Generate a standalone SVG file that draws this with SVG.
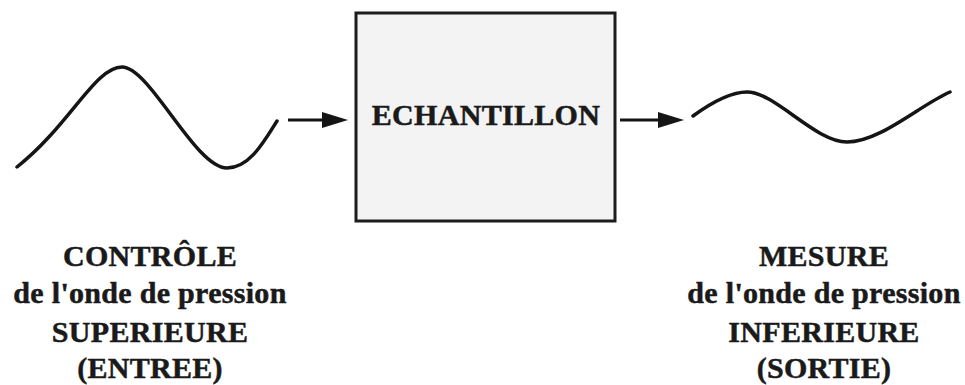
<svg xmlns="http://www.w3.org/2000/svg" width="965" height="385" viewBox="0 0 965 385">
  <style>
    .wave { fill: none; stroke: #151515; stroke-width: 3.5; stroke-linecap: round; stroke-linejoin: round; }
    .box { fill: #f3f3f3; stroke: #1c1c1c; stroke-width: 3; }
    .link { fill: none; stroke: #151515; stroke-width: 3; }
    .head { fill: #151515; }
    .label { font-family: "Liberation Serif", "Times New Roman", serif; font-weight: bold; font-size: 30px; fill: #1a1a1a; stroke: #1a1a1a; stroke-width: 0.5; letter-spacing: 0.3px; text-anchor: middle; }
  </style>
  <rect width="965" height="385" fill="#ffffff"/>

  <!-- input pressure wave -->
  <g id="input-wave">
    <path class="wave" d="M17,167 C70,125 95,67 122,67 C150,67 195,168 227,168 C250,168 265,140 277,121"/>
  </g>

  <!-- sample block -->
  <g id="sample">
    <rect class="box" x="356" y="13" width="259" height="208"/>
    <text class="label" x="486" y="125">ECHANTILLON</text>
  </g>

  <!-- output pressure wave -->
  <g id="output-wave">
    <path class="wave" d="M693,116 C715,100 732,92 747,92 C775,92 815,142 847,142 C880,142 920,105 950,92"/>
  </g>

  <!-- captions -->
  <g id="input-caption">
    <text class="label" x="150" y="266">CONTRÔLE</text>
    <text class="label" x="150" y="303">de l'onde de pression</text>
    <text class="label" x="150" y="342">SUPERIEURE</text>
    <text class="label" x="150" y="378">(ENTREE)</text>
  </g>
  <g id="output-caption">
    <text class="label" x="824" y="266">MESURE</text>
    <text class="label" x="824" y="303">de l'onde de pression</text>
    <text class="label" x="824" y="342">INFERIEURE</text>
    <text class="label" x="824" y="378">(SORTIE)</text>
  </g>

  <!-- connectors -->
  <g id="connectors">
    <line class="link" x1="288" y1="120" x2="330" y2="120"/>
    <path class="head" d="M322,112 L348,120 L322,128 Z"/>
    <line class="link" x1="620" y1="120" x2="664" y2="120"/>
    <path class="head" d="M658,112 L684,120 L658,128 Z"/>
  </g>
</svg>
